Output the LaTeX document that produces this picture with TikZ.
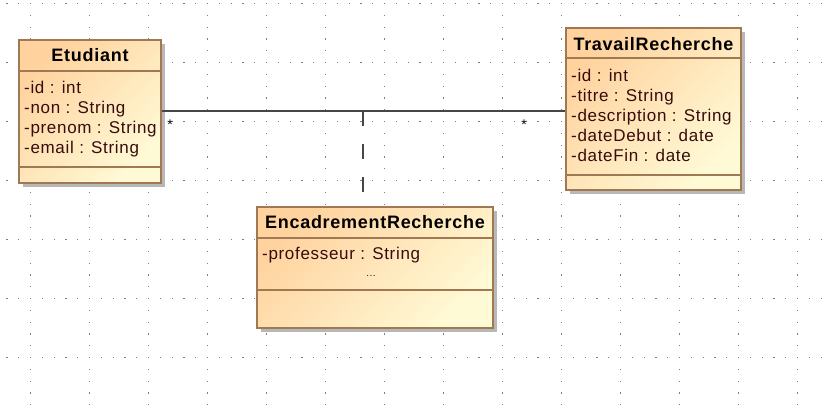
\documentclass[tikz,border=0pt]{standalone}
\usepackage{fontspec}
\setmainfont{Liberation Sans}[LetterSpace=4]
\usetikzlibrary{shadows}
\definecolor{clsa}{RGB}{255,210,158}
\definecolor{clsb}{RGB}{255,250,214}
\definecolor{clsline}{RGB}{160,120,82}
\definecolor{attrc}{RGB}{55,12,12}
\definecolor{gridc}{RGB}{125,125,125}
\definecolor{assocc}{RGB}{70,70,70}

\begin{document}
\begin{tikzpicture}[x=1pt,y=-1pt,
	classbox/.style={draw=clsline,line width=1.6pt,inner sep=0pt,top color=clsa,bottom color=clsb,shading angle=45,
		general shadow={fill=black!28,shadow xshift=4pt,shadow yshift=-4pt}},
	sepline/.style={draw=clsline,line width=1.4pt},
	clsname/.style={font=\fontsize{18}{20}\selectfont\bfseries,anchor=base,inner sep=0pt},
	clsattr/.style={font=\fontsize{17}{20}\selectfont,text=attrc,anchor=base west,inner sep=0pt},
	mult/.style={font=\fontsize{14}{14}\selectfont,inner sep=0pt},
	assoc/.style={draw=assocc,line width=1.3pt},
	griddot/.style={fill=gridc}]

	\fill[white] (0,0) rectangle (823,411);
	\useasboundingbox (0,0) rectangle (823,411);

	\foreach \i in {0,...,13}
		\foreach \j in {0,...,34}
			\fill[griddot] (30+59*\i,3+11.8*\j) rectangle ++(1.2,1.2);
	\foreach \j in {0,...,6}
		\foreach \i in {-2,...,67}
			\fill[griddot] (30+11.8*\i,3+59*\j) rectangle ++(1.2,1.2);

	\node[classbox,minimum width=142pt,minimum height=143pt] (etudiant) at (90,111.5) {};
	\node[classbox,minimum width=175pt,minimum height=162pt] (travail) at (653.5,109) {};
	\node[classbox,minimum width=236pt,minimum height=121pt] (encadrement) at (375,267.5) {};

	\draw[sepline] (etudiant.west |- 0,71) -- (etudiant.east |- 0,71);
	\draw[sepline] (etudiant.west |- 0,167) -- (etudiant.east |- 0,167);
	\draw[sepline] (travail.west |- 0,58) -- (travail.east |- 0,58);
	\draw[sepline] (travail.west |- 0,175) -- (travail.east |- 0,175);
	\draw[sepline] (encadrement.west |- 0,238) -- (encadrement.east |- 0,238);
	\draw[sepline] (encadrement.west |- 0,290) -- (encadrement.east |- 0,290);

	\node[clsname] (etudiantname) at (90,62) {Etudiant};
	\node[clsattr] (etudiantid) at (24,94) {-id : int};
	\node[clsattr] (etudiantnon) at (24,114) {-non : String};
	\node[clsattr] (etudiantprenom) at (24,134) {-prenom : String};
	\node[clsattr] (etudiantemail) at (24,154) {-email : String};

	\node[clsname] (travailname) at (653.5,51) {TravailRecherche};
	\node[clsattr] (travailid) at (571,82) {-id : int};
	\node[clsattr] (travailtitre) at (571,102) {-titre : String};
	\node[clsattr] (travaildesc) at (571,122) {-description : String};
	\node[clsattr] (travaildebut) at (571,142) {-dateDebut : date};
	\node[clsattr] (travailfin) at (571,162) {-dateFin : date};

	\node[clsname] (encadrementname) at (375,229) {EncadrementRecherche};
	\node[clsattr] (encadrementprof) at (262,260) {-professeur : String};
	\node[clsattr,anchor=base] (encadrementdots) at (371,277) {\fontsize{10}{10}\selectfont...};

	\coordinate (assocmid) at (363,111);
	\draw[assoc] (etudiant.east |- assocmid) -- (travail.west |- assocmid);
	\draw[assoc,line width=1.2pt,dash pattern=on 15pt off 18pt] (assocmid) -- (assocmid |- encadrement.north);

	\node[mult] (multetudiant) at (170,125) {*};
	\node[mult] (multtravail) at (524,125) {*};
\end{tikzpicture}
\end{document}
